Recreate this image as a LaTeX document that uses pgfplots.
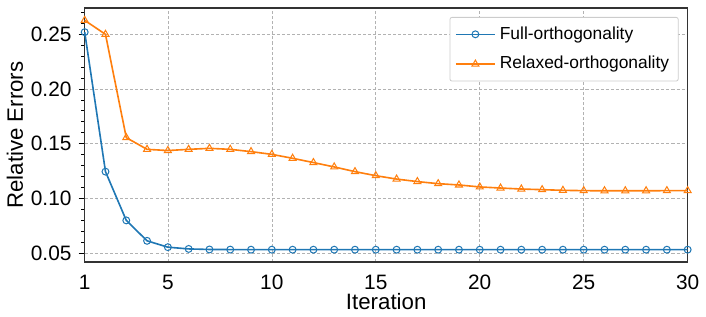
\documentclass[border=0pt]{standalone}
\usepackage{fontspec}
\setmainfont{Liberation Sans}
\usepackage{pgfplots}
\pgfplotsset{compat=1.18}
\definecolor{tabblue}{HTML}{1F77B4}
\definecolor{taborange}{HTML}{FF7F0E}
\begin{document}
\begin{tikzpicture}
\begin{axis}[
  name=ax,
  width=298pt, height=125.5pt, scale only axis,
  xmin=1, xmax=30, ymin=0.0417, ymax=0.274,
  xtick={1,5,10,15,20,25,30},
  ytick={0.05,0.10,0.15,0.20,0.25},
  minor ytick={0.06,0.07,0.08,0.09,0.11,0.12,0.13,0.14,0.16,0.17,0.18,0.19,0.21,0.22,0.23,0.24,0.26,0.27},
  yticklabel style={/pgf/number format/.cd, fixed, fixed zerofill, precision=2},
  /pgf/number format/assume math mode=true,
  tick label style={font=\fontsize{10.3}{12}\selectfont},
  label style={font=\fontsize{11}{13}\selectfont},
  xlabel={Iteration}, ylabel={Relative Errors},
  xlabel style={yshift=5pt}, ylabel style={yshift=-3pt},
  ytick pos=left, xtick pos=bottom,
  tick align=outside,
  xtick style={draw=none},
  ytick style={black, line width=0.4pt},
  major tick length=3pt, minor tick length=1.8pt,
  ymajorgrids, xmajorgrids,
  grid style={black!30, dash pattern=on 1.5pt off 1pt, line width=0.3pt},
  axis line style={black!80, line width=0.6pt},
  legend style={font=\fontsize{8.6}{10}\selectfont, draw=black!20, rounded corners=1pt,
    at={(0.985,0.965)}, anchor=north east, inner sep=2.5pt, row sep=3pt},
  legend image code/.code={%
    \draw[mark repeat=2,mark phase=2] plot coordinates {(0cm,0cm) (0.34cm,0cm) (0.68cm,0cm)};},
  legend cell align=left,
  clip=false,
]
\addplot[tabblue, line width=0.8pt, mark=o, mark size=1.7pt, mark options={line width=0.5pt}]
coordinates {
(1,0.252)(2,0.1244)(3,0.0798)(4,0.0611)(5,0.0553)(6,0.0537)(7,0.0532)(8,0.0531)
(9,0.053)(10,0.053)(11,0.053)(12,0.053)(13,0.053)(14,0.053)(15,0.053)(16,0.053)
(17,0.053)(18,0.053)(19,0.053)(20,0.053)(21,0.053)(22,0.053)(23,0.053)(24,0.053)
(25,0.053)(26,0.053)(27,0.053)(28,0.053)(29,0.053)(30,0.053)
};
\addlegendentry{Full-orthogonality}
\addplot[taborange, line width=0.8pt, mark=triangle, mark size=2pt, mark options={line width=0.5pt}]
coordinates {
(1,0.2628)(2,0.250)(3,0.1555)(4,0.1448)(5,0.1437)(6,0.1448)(7,0.1457)(8,0.1448)
(9,0.1427)(10,0.1402)(11,0.1366)(12,0.1327)(13,0.1287)(14,0.1244)(15,0.1207)(16,0.1176)
(17,0.1153)(18,0.1134)(19,0.1122)(20,0.1104)(21,0.1094)(22,0.1085)(23,0.1079)(24,0.1073)
(25,0.107)(26,0.1069)(27,0.1069)(28,0.1069)(29,0.107)(30,0.107)
};
\addlegendentry{Relaxed-orthogonality}
\end{axis}
\path ([yshift=4pt]ax.north) -- ([yshift=-2pt]ax.south);
\end{tikzpicture}
\end{document}
